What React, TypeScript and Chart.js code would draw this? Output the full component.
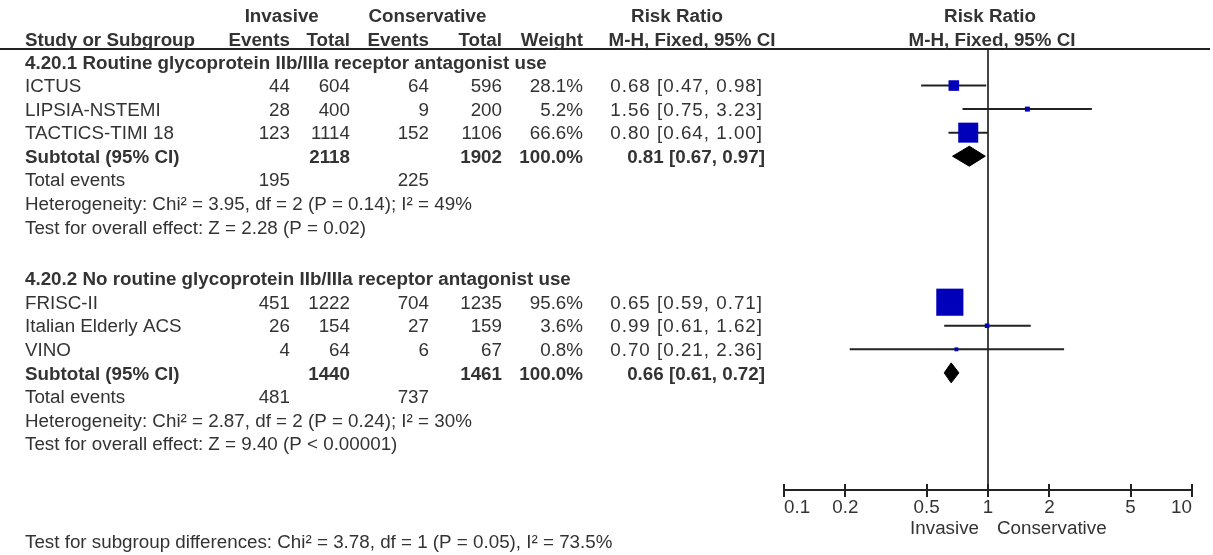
import React, { useEffect, useRef } from "react";
import { Chart, registerables } from "chart.js";

Chart.register(...registerables);

// ---------- data ----------
const group1Title = "4.20.1 Routine glycoprotein IIb/IIIa receptor antagonist use";
const group1Studies = ["ICTUS", "LIPSIA-NSTEMI", "TACTICS-TIMI 18"];
const group1InvEvents = [44, 28, 123];
const group1InvTotal = [604, 400, 1114];
const group1ConEvents = [64, 9, 152];
const group1ConTotal = [596, 200, 1106];
const group1Weight = [28.1, 5.2, 66.6];
const group1RR = [0.68, 1.56, 0.8];
const group1Lower = [0.47, 0.75, 0.64];
const group1Upper = [0.98, 3.23, 1.0];

const group2Title = "4.20.2 No routine glycoprotein IIb/IIIa receptor antagonist use";
const group2Studies = ["FRISC-II", "Italian Elderly ACS", "VINO"];
const group2InvEvents = [451, 26, 4];
const group2InvTotal = [1222, 154, 64];
const group2ConEvents = [704, 27, 6];
const group2ConTotal = [1235, 159, 67];
const group2Weight = [95.6, 3.6, 0.8];
const group2RR = [0.65, 0.99, 0.7];
const group2Lower = [0.59, 0.61, 0.21];
const group2Upper = [0.71, 1.62, 2.36];

const subtotalInvTotal = [2118, 1440];
const subtotalConTotal = [1902, 1461];
const subtotalWeight = [100.0, 100.0];
const subtotalRR = [0.81, 0.66];
const subtotalLower = [0.67, 0.61];
const subtotalUpper = [0.97, 0.72];
const totalInvEvents = [195, 481];
const totalConEvents = [225, 737];
const heterogeneityText = [
  "Heterogeneity: Chi\u00B2 = 3.95, df = 2 (P = 0.14); I\u00B2 = 49%",
  "Heterogeneity: Chi\u00B2 = 2.87, df = 2 (P = 0.24); I\u00B2 = 30%",
];
const overallEffectText = [
  "Test for overall effect: Z = 2.28 (P = 0.02)",
  "Test for overall effect: Z = 9.40 (P < 0.00001)",
];
const subgroupDiffText =
  "Test for subgroup differences: Chi\u00B2 = 3.78, df = 1 (P = 0.05), I\u00B2 = 73.5%";
const axisTicks = [0.1, 0.2, 0.5, 1, 2, 5, 10];
const favoursLeft = "Invasive";
const favoursRight = "Conservative";

// ---------- layout / style ----------
const FS = 18.8;
const FAMILY = '"Liberation Sans", Arial, Helvetica, sans-serif';
const TEXT = "#333333";
const LINE = "#222222";
const BLUE = "#0000BB";
const GROUP_START = [0, 9.2];
const Y_MIN = -0.552;
const Y_MAX = 18.174;
const DIAMOND_HALF = 0.425;
const COL = { name: 25, ie: 290, it: 350, ce: 429, ct: 502, w: 583, ci: 763 };

const groups = [
  {
    title: group1Title, studies: group1Studies, ie: group1InvEvents, it: group1InvTotal,
    ce: group1ConEvents, ct: group1ConTotal, w: group1Weight, rr: group1RR, lo: group1Lower, up: group1Upper,
  },
  {
    title: group2Title, studies: group2Studies, ie: group2InvEvents, it: group2InvTotal,
    ce: group2ConEvents, ct: group2ConTotal, w: group2Weight, rr: group2RR, lo: group2Lower, up: group2Upper,
  },
];

const ciStr = (r: number, l: number, u: number) => `${r.toFixed(2)} [${l.toFixed(2)}, ${u.toFixed(2)}]`;
const sideFor = (w: number) => 3.7 + 0.245 * w;

function buildDatasets() {
  const ds: any[] = [];
  const squarePts: any[] = [];
  const squareW: number[] = [];
  groups.forEach((g, gi) => {
    const r0 = GROUP_START[gi];
    g.studies.forEach((_, i) => {
      const r = r0 + 1 + i;
      ds.push({
        type: "line",
        data: [{ x: g.lo[i], y: r }, { x: g.up[i], y: r }],
        borderColor: LINE,
        borderWidth: 2,
        pointRadius: 0,
        fill: false,
        order: 3,
      });
      squarePts.push({ x: g.rr[i], y: r });
      squareW.push(g.w[i]);
    });
    const rs = r0 + 1 + g.studies.length;
    ds.push({
      type: "line",
      data: [
        { x: subtotalLower[gi], y: rs },
        { x: subtotalRR[gi], y: rs - DIAMOND_HALF },
        { x: subtotalUpper[gi], y: rs },
        { x: subtotalRR[gi], y: rs + DIAMOND_HALF },
        { x: subtotalLower[gi], y: rs },
      ],
      borderColor: "#000",
      backgroundColor: "#000",
      borderWidth: 1,
      pointRadius: 0,
      fill: "shape",
      order: 0,
    });
  });
  ds.push({
    type: "line",
    data: squarePts,
    showLine: false,
    pointStyle: "rect",
    pointRadius: (c: any) => sideFor(squareW[c.dataIndex] ?? 0) / Math.SQRT2,
    pointBackgroundColor: BLUE,
    pointBorderWidth: 0,
    order: 1,
  });
  return ds;
}

const tablePlugin = {
  id: "forestTable",
  beforeDatasetsDraw(chart: any) {
    const { ctx, chartArea } = chart;
    const x = chart.scales.x;
    const px = x.getPixelForValue(1);
    ctx.save();
    ctx.strokeStyle = "#444";
    ctx.lineWidth = 2;
    ctx.beginPath();
    ctx.moveTo(px, chartArea.top);
    ctx.lineTo(px, chartArea.bottom);
    ctx.stroke();
    ctx.restore();
  },
  afterDraw(chart: any) {
    const { ctx, chartArea } = chart;
    const xs = chart.scales.x;
    const ys = chart.scales.y;
    ctx.save();
    // header rule
    ctx.strokeStyle = LINE;
    ctx.lineWidth = 2;
    ctx.beginPath();
    ctx.moveTo(0, chartArea.top);
    ctx.lineTo(1210, chartArea.top);
    ctx.stroke();
    // upward half of axis ticks
    ctx.beginPath();
    axisTicks.forEach((v) => {
      const p = Math.round(xs.getPixelForValue(v));
      ctx.moveTo(p, chartArea.bottom);
      ctx.lineTo(p, chartArea.bottom - 6);
    });
    ctx.stroke();

    const t = (s: string, x: number, yc: number, align: CanvasTextAlign, bold = false, spacing = "0px") => {
      ctx.font = `${bold ? "bold " : ""}${FS}px ${FAMILY}`;
      ctx.fillStyle = TEXT;
      ctx.textAlign = align;
      ctx.textBaseline = "alphabetic";
      (ctx as any).letterSpacing = spacing;
      ctx.fillText(s, x, yc + FS * 0.358);
    };
    const Y = (r: number) => ys.getPixelForValue(r);

    // headers
    const h1 = Y(-2.0);
    const h2 = Y(-0.96);
    t("Invasive", 281.7, h1, "center", true);
    t("Conservative", 427.5, h1, "center", true);
    t("Risk Ratio", 677, h1, "center", true);
    t("Risk Ratio", 990, h1, "center", true);
    t("Study or Subgroup", COL.name, h2, "left", true);
    t("Events", COL.ie, h2, "right", true);
    t("Total", COL.it, h2, "right", true);
    t("Events", COL.ce, h2, "right", true);
    t("Total", COL.ct, h2, "right", true);
    t("Weight", COL.w, h2, "right", true);
    t("M-H, Fixed, 95% CI", 692, h2, "center", true);
    t("M-H, Fixed, 95% CI", 992, h2, "center", true);

    groups.forEach((g, gi) => {
      const r0 = GROUP_START[gi];
      t(g.title, COL.name, Y(r0), "left", true);
      g.studies.forEach((name, i) => {
        const yc = Y(r0 + 1 + i);
        t(name, COL.name, yc, "left");
        t(String(g.ie[i]), COL.ie, yc, "right");
        t(String(g.it[i]), COL.it, yc, "right");
        t(String(g.ce[i]), COL.ce, yc, "right");
        t(String(g.ct[i]), COL.ct, yc, "right");
        t(`${g.w[i].toFixed(1)}%`, COL.w, yc, "right");
        t(ciStr(g.rr[i], g.lo[i], g.up[i]), COL.ci, yc, "right", false, "1px");
      });
      const rs = r0 + 1 + g.studies.length;
      const ysub = Y(rs);
      t("Subtotal (95% CI)", COL.name, ysub, "left", true);
      t(String(subtotalInvTotal[gi]), COL.it, ysub, "right", true);
      t(String(subtotalConTotal[gi]), COL.ct, ysub, "right", true);
      t(`${subtotalWeight[gi].toFixed(1)}%`, COL.w, ysub, "right", true);
      t(ciStr(subtotalRR[gi], subtotalLower[gi], subtotalUpper[gi]), COL.ci + 2, ysub, "right", true);
      const yte = Y(rs + 1);
      t("Total events", COL.name, yte, "left");
      t(String(totalInvEvents[gi]), COL.ie, yte, "right");
      t(String(totalConEvents[gi]), COL.ce, yte, "right");
      t(heterogeneityText[gi], COL.name, Y(rs + 2), "left");
      t(overallEffectText[gi], COL.name, Y(rs + 3), "left");
    });

    const p1 = xs.getPixelForValue(1);
    const yf = chartArea.bottom + 37.5;
    t(favoursLeft, p1 - 9, yf, "right");
    t(favoursRight, p1 + 9, yf, "left");
    t(subgroupDiffText, COL.name, Y(20.36), "left");
    ctx.restore();
  },
};

export default function App() {
  const ref = useRef<HTMLCanvasElement | null>(null);
  useEffect(() => {
    if (!ref.current) return;
    const chart = new Chart(ref.current, {
      type: "line",
      data: { datasets: buildDatasets() },
      options: {
        responsive: false,
        animation: false,
        events: [],
        layout: { padding: { left: 784, right: 21, top: 49, bottom: 0 } },
        plugins: {
          legend: { display: false },
          tooltip: { enabled: false },
          title: { display: false },
        },
        scales: {
          x: {
            type: "logarithmic",
            min: 0.1,
            max: 10,
            position: "bottom",
            afterBuildTicks: (s: any) => {
              s.ticks = axisTicks.map((v) => ({ value: v }));
            },
            afterFit: (s: any) => {
              s.height = 65;
            },
            ticks: {
              autoSkip: false,
              maxRotation: 0,
              minRotation: 0,
              align: "inner",
              color: TEXT,
              padding: 0,
              font: { family: FAMILY, size: FS },
              callback: (v: any) => String(v),
            },
            grid: {
              drawOnChartArea: false,
              drawTicks: true,
              tickLength: 7,
              color: LINE,
              lineWidth: 2,
            },
            border: { display: true, color: LINE, width: 2 },
          },
          y: {
            type: "linear",
            display: false,
            min: Y_MIN,
            max: Y_MAX,
            reverse: true,
          },
        },
      } as any,
      plugins: [tablePlugin],
    });
    return () => chart.destroy();
  }, []);
  return (
    <div style={{ position: "absolute", left: 0, top: 0, width: 1213, height: 555, background: "#fff" }}>
      <canvas ref={ref} width={1213} height={555} style={{ display: "block" }} />
    </div>
  );
}
